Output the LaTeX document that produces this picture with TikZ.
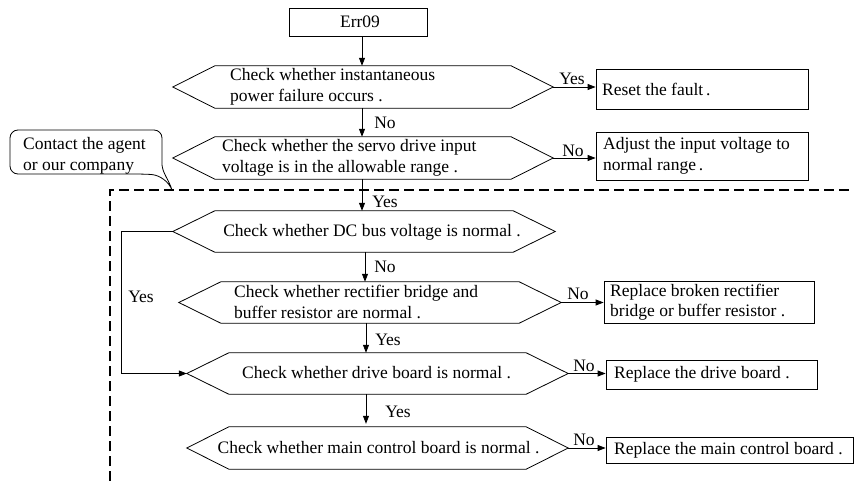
\documentclass[tikz,border=0pt]{standalone}
\usepackage{fontspec}
\setmainfont{Liberation Serif}
\usetikzlibrary{arrows.meta,calc}
\newcommand\drawhexa[1]{\draw[hexline] (#1.north west) -- (#1.north east) -- ([xshift=42pt]#1.east) coordinate (#1r) -- (#1.south east) -- (#1.south west) -- ([xshift=-42pt]#1.west) coordinate (#1l) -- cycle;}
\tikzset{
  every node/.style={font=\fontsize{17.5}{20.5}\selectfont},
  shapebox/.style={draw, line width=0.8pt, inner sep=0pt},
  hexa/.style={inner sep=0pt},
  hexline/.style={line width=0.8pt},
  txt/.style={inner sep=0pt, align=left},
  lbl/.style={inner sep=0pt},
  arr/.style={line width=0.8pt, -{Triangle[length=8pt,width=6pt]}},
  dashline/.style={line width=1.8pt, dash pattern=on 10pt off 5pt},
}
\begin{document}
\begin{tikzpicture}[x=1pt,y=-1pt]
\useasboundingbox (0,0) rectangle (854,481);

% dashed region
\draw[dashline] (110,481) -- (110,190) -- (854,190);

% start box
\node[shapebox, minimum width=138pt, minimum height=28pt] (err) at (358,22) {};
\node[txt] (errt) at (360,22) {Err09};

% hexagons
\node[hexa, minimum width=296pt, minimum height=42pt] (h1) at (363,87) {};
\node[hexa, minimum width=296pt, minimum height=42pt] (h2) at (363,158) {};
\node[hexa, minimum width=298pt, minimum height=41pt] (h3) at (364,231.5) {};
\node[hexa, minimum width=298pt, minimum height=41pt] (h4) at (370,302.5) {};
\node[hexa, minimum width=297pt, minimum height=41pt] (h5) at (377.5,373.5) {};
\node[hexa, minimum width=297pt, minimum height=42pt] (h6) at (377.5,448) {};
\drawhexa{h1}
\drawhexa{h2}
\drawhexa{h3}
\drawhexa{h4}
\drawhexa{h5}
\drawhexa{h6}

\node[txt, anchor=west] (h1t) at (230,87) {Check whether instantaneous\\power failure occurs .};
\node[txt, anchor=west] (h2t) at (222,158) {Check whether the servo drive input\\voltage is in the allowable range .};
\node[txt] (h3t) at (372,232) {Check whether DC bus voltage is normal .};
\node[txt, anchor=west] (h4t) at (234,302) {Check whether rectifier bridge and\\buffer resistor are normal .};
\node[txt] (h5t) at (376.5,373) {Check whether drive board is normal .};
\node[txt] (h6t) at (378.5,448) {Check whether main control board is normal .};

% result boxes
\node[shapebox, minimum width=212pt, minimum height=40pt] (reset) at (702,89) {};
\node[shapebox, minimum width=212pt, minimum height=48pt] (adjust) at (702,156) {};
\node[shapebox, minimum width=210pt, minimum height=42pt] (rep1) at (709,302) {};
\node[shapebox, minimum width=211pt, minimum height=29pt] (rep2) at (711.5,374.5) {};
\node[shapebox, minimum width=247pt, minimum height=26pt] (rep3) at (729.5,450) {};

\node[txt, anchor=west] (resett) at (602,89) {Reset the fault\,.};
\node[txt, anchor=west] (adjustt) at (603,156) {Adjust the input voltage to\\normal range\,.};
\node[txt, anchor=west] (rep1t) at (610,302) {Replace broken rectifier\\bridge or buffer resistor .};
\node[txt, anchor=west] (rep2t) at (614,374.5) {Replace the drive board .};
\node[txt, anchor=west] (rep3t) at (614,450) {Replace the main control board .};

% callout
\node[txt, anchor=west] (call) at (23,156) {Contact the agent\\or our company};
\draw[line width=0.8pt] (162,165) [rounded corners=8pt] -- (162,130) -- (10,130) -- (10,174) -- (143,174) [sharp corners] .. controls (160,175) and (169,182) .. (172,190) .. controls (169,180) and (163,174) .. (162,165);

% vertical connectors
\draw[arr] ([xshift=4pt]err.south) -- ([xshift=4pt]err.south |- h1.north);
\draw[arr] ([xshift=-1pt]h1.south) -- ([xshift=-1pt]h1.south |- h2.north);
\draw[arr] ([xshift=-1pt]h2.south) -- ([xshift=-1pt]h2.south |- h3.north);
\draw[arr] ([xshift=1pt]h3.south) -- ([xshift=1pt]h3.south |- h4.north);
\draw[arr] ([xshift=-4pt]h4.south) -- ([xshift=-4pt]h4.south |- h5.north);
\draw[arr, shorten >=3pt] ([xshift=-11.5pt]h5.south) -- ([xshift=-11.5pt]h5.south |- h6.north);

% horizontal connectors
\draw[arr] (h1r) -- (h1r -| reset.west);
\draw[arr] (h2r) -- (h2r -| adjust.west);
\draw[arr] (h4r) -- (h4r -| rep1.west);
\draw[arr] (h5r) -- (h5r -| rep2.west);
\draw[arr] (h6r) -- (h6r -| rep3.west);

% yes loop
\draw[arr] (h3l) -- ++(-51,0) |- (h5l);

% labels
\node[lbl] (l1) at (572,79) {Yes};
\node[lbl] (l2) at (385,123) {No};
\node[lbl] (l3) at (573,151) {No};
\node[lbl] (l4) at (385,202) {Yes};
\node[lbl] (l5) at (385,267) {No};
\node[lbl] (l6) at (578,294) {No};
\node[lbl] (l7) at (388,340) {Yes};
\node[lbl] (l8) at (584,366) {No};
\node[lbl] (l9) at (398,412) {Yes};
\node[lbl] (l10) at (584,440) {No};
\node[lbl] (l11) at (141,297) {Yes};
\end{tikzpicture}
\end{document}
